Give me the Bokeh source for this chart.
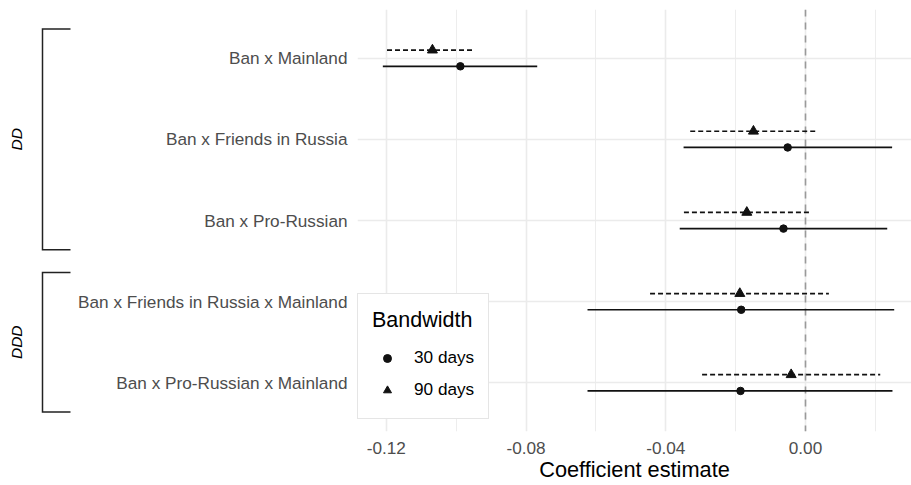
import math
from bokeh.plotting import figure
from bokeh.models import (ColumnDataSource, Range1d, FixedTicker, Legend,
                          LegendItem, Span)
from bokeh.layouts import row
from bokeh.embed import file_html
from bokeh.resources import INLINE
from bokeh.core.properties import value

# ---------------- data ----------------
categories = ["Ban x Mainland", "Ban x Friends in Russia", "Ban x Pro-Russian",
              "Ban x Friends in Russia x Mainland", "Ban x Pro-Russian x Mainland"]
groups = ["DD", "DD", "DD", "DDD", "DDD"]

est_30 = [-0.0988, -0.0051, -0.0063, -0.0184, -0.0186]
lo_30 = [-0.1210, -0.0349, -0.0360, -0.0624, -0.0624]
hi_30 = [-0.0768, 0.0248, 0.0234, 0.0254, 0.0249]

est_90 = [-0.1068, -0.0149, -0.0168, -0.0188, -0.0041]
lo_90 = [-0.1198, -0.0330, -0.0348, -0.0445, -0.0296]
hi_90 = [-0.0947, 0.0031, 0.0012, 0.0067, 0.0214]

series_labels = ["30 days", "90 days"]
legend_title = "Bandwidth"
x_title = "Coefficient estimate"
x_ticks = [-0.12, -0.08, -0.04, 0.00]
x_tick_labels = ["-0.12", "-0.08", "-0.04", "0.00"]
x_minor_ticks = [-0.10, -0.06, -0.02, 0.02]

# ---------------- layout ----------------
FONT = "Liberation Sans"
H = 485
BR_W = 73
MAIN_W = 911 - BR_W
TOP = 9
BOTTOM = 54
n = len(categories)
pos = [n - i for i in range(n)]
DODGE = 0.1
y30 = [p - DODGE for p in pos]
y90 = [p + DODGE for p in pos]

y_range = Range1d(0.4, n + 0.6)
x_range = Range1d(-0.12825, 0.03035)

main = figure(width=MAIN_W, height=H, x_range=x_range, y_range=y_range,
              output_backend="svg", toolbar_location=None,
              min_border_left=284, min_border_right=0, min_border_top=TOP,
              min_border_bottom=BOTTOM)
main.outline_line_color = None
main.background_fill_color = "white"
main.border_fill_color = "white"

xa = main.xaxis[0]
xa.ticker = FixedTicker(ticks=x_ticks)
xa.major_label_overrides = {t: l for t, l in zip(x_ticks, x_tick_labels)}
xa.axis_line_color = None
xa.major_tick_line_color = None
xa.minor_tick_line_color = None
xa.major_tick_out = 0
xa.minor_tick_out = 0
xa.major_label_standoff = 10
xa.major_label_text_font = FONT
xa.major_label_text_font_size = "17.2px"
xa.major_label_text_color = "#4d4d4d"
xa.axis_label = x_title
xa.axis_label_standoff = 0
xa.axis_label_text_font = FONT
xa.axis_label_text_font_size = "21.75px"
xa.axis_label_text_font_style = "normal"
xa.axis_label_text_color = "black"

ya = main.yaxis[0]
ya.ticker = FixedTicker(ticks=pos)
ya.major_label_overrides = {p: c for p, c in zip(pos, categories)}
ya.axis_line_color = None
ya.major_tick_line_color = None
ya.minor_tick_line_color = None
ya.major_tick_out = 0
ya.minor_tick_out = 0
ya.major_label_standoff = 10
ya.major_label_text_font = FONT
ya.major_label_text_font_size = "17.2px"
ya.major_label_text_color = "#4d4d4d"

main.xgrid.ticker = FixedTicker(ticks=x_ticks, minor_ticks=x_minor_ticks)
main.xgrid.grid_line_color = "#ebebeb"
main.xgrid.grid_line_width = 1.6
main.xgrid.minor_grid_line_color = "#ebebeb"
main.xgrid.minor_grid_line_width = 0.9
main.ygrid.ticker = FixedTicker(ticks=pos)
main.ygrid.grid_line_color = "#ebebeb"
main.ygrid.grid_line_width = 1.6

zero = Span(location=0, dimension="height", line_color="#9a9a9a",
            line_width=1.6, line_dash="7 6", level="underlay")
main.add_layout(zero)

src30 = ColumnDataSource(dict(y=y30, est=est_30, lo=lo_30, hi=hi_30))
src90 = ColumnDataSource(dict(y=y90, est=est_90, lo=lo_90, hi=hi_90))

main.segment(x0="lo", y0="y", x1="hi", y1="y", source=src30,
             line_color="#111111", line_width=1.7)
main.segment(x0="lo", y0="y", x1="hi", y1="y", source=src90,
             line_color="#111111", line_width=1.7, line_dash="5 3")
r30 = main.scatter(x="est", y="y", source=src30, marker="circle", size=7.5,
                   color="#111111")
r90 = main.scatter(x="est", y="y", source=src90, marker="triangle", size=10,
                   color="#111111")

legend = Legend(items=[LegendItem(label=series_labels[0], renderers=[r30]),
                       LegendItem(label=series_labels[1], renderers=[r90])],
                location=(0, 12), title=legend_title)
legend.title_text_font = FONT
legend.title_text_font_size = "21.5px"
legend.title_text_font_style = "normal"
legend.title_text_color = "black"
legend.title_standoff = 10
legend.label_text_font = FONT
legend.label_text_font_size = "17.2px"
legend.label_text_color = "black"
legend.label_standoff = 12
legend.glyph_width = 30
legend.glyph_height = 20
legend.label_height = 29
legend.spacing = 3
legend.padding = 14
legend.margin = 0
legend.border_line_color = "#cccccc"
legend.border_line_width = 1.5
legend.background_fill_color = "white"
legend.background_fill_alpha = 1
main.add_layout(legend)

# ---------------- bracket panel ----------------
br = figure(width=BR_W, height=H, x_range=Range1d(0, BR_W), y_range=y_range,
            output_backend="svg", toolbar_location=None,
            min_border_left=0, min_border_right=0, min_border_top=TOP,
            min_border_bottom=BOTTOM)
br.outline_line_color = None
br.grid.visible = False
br.axis.visible = False
br.background_fill_color = "white"
br.border_fill_color = "white"

BX, BT = 42, 70
PAD = 0.36
g_names, xs, ys, mids = [], [], [], []
for g in dict.fromkeys(groups):
    ps = [p for p, gg in zip(pos, groups) if gg == g]
    top, bot = max(ps) + PAD, min(ps) - PAD
    xs.append([BT, BX, BX, BT])
    ys.append([top, top, bot, bot])
    mids.append((max(ps) + min(ps)) / 2)
    g_names.append(g)

br.multi_line(xs=xs, ys=ys, line_color="#222222", line_width=1.5,
              line_join="miter")
br.text(x=[16] * len(g_names), y=mids, text=g_names, angle=math.pi / 2,
        text_align="center", text_baseline="middle",
        text_font=value(FONT), text_font_style="italic",
        text_font_size="15.5px", text_color="black")

layout = row(br, main)
open("out.html", "w").write(file_html(layout, INLINE))
